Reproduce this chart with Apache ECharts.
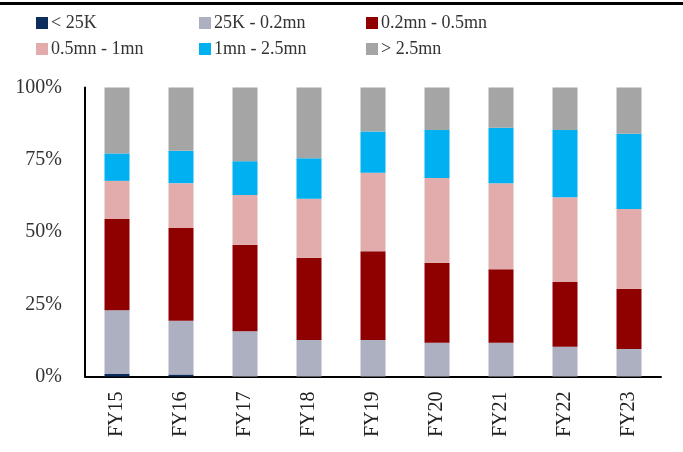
<!DOCTYPE html>
<html><head><meta charset="utf-8">
<script src="https://cdn.jsdelivr.net/npm/echarts@6/dist/echarts.min.js"></script>
<style>html,body{margin:0;padding:0;background:#fff}#c{width:683px;height:452px}</style>
</head><body><div id="c"></div>
<script>
const categories = ['FY15','FY16','FY17','FY18','FY19','FY20','FY21','FY22','FY23'];
const seriesNames = ['< 25K','25K - 0.2mn','0.2mn - 0.5mn','0.5mn - 1mn','1mn - 2.5mn','> 2.5mn'];
const under25K   = [1.0, 0.7, 0, 0, 0, 0, 0, 0, 0];
const k25to02mn  = [21.9, 18.6, 15.7, 12.6, 12.6, 11.7, 11.7, 10.3, 9.5];
const mn02to05   = [31.6, 32.1, 29.9, 28.5, 30.7, 27.7, 25.4, 22.4, 20.9];
const mn05to1    = [13.2, 15.5, 17.2, 20.4, 27.2, 29.3, 29.8, 29.3, 27.6];
const mn1to25    = [9.5, 11.2, 11.7, 14.0, 14.3, 16.6, 19.2, 23.3, 26.0];
const over25mn   = [22.8, 21.9, 25.5, 24.5, 15.2, 14.7, 13.9, 14.7, 16.0];
const yTicks = [0, 25, 50, 75, 100];

const colors = ['#0d2d5c', '#adb0c0', '#8f0000', '#e3acac', '#00b0f0', '#a5a5a5'];
const values = [under25K, k25to02mn, mn02to05, mn05to1, mn1to25, over25mn];
const font = '"Liberation Serif", "DejaVu Serif", serif';

const legendPos = [[36,14],[199,14],[366,14],[36,40],[199,40],[366,40]];
const legends = seriesNames.map((n, i) => ({
  data: [n], left: legendPos[i][0], top: legendPos[i][1], padding: 0,
  itemWidth: 12, itemHeight: 12, icon: 'rect', itemGap: 0,
  textStyle: { fontFamily: font, fontSize: 18, color: '#333', padding: [0,0,0,-2] }
}));

const chart = echarts.init(document.getElementById('c'), null, { renderer: 'canvas' });
chart.setOption({
  animation: false,
  color: colors,
  legend: legends,
  graphic: [{ type: 'rect', left: 0, top: 2, shape: { width: 683, height: 3 }, style: { fill: '#000' } }],
  grid: { left: 85, right: 22, top: 87.5, bottom: 75.5 },
  xAxis: {
    type: 'category', data: categories,
    axisLine: { lineStyle: { color: '#000', width: 2 } },
    axisTick: { show: false },
    axisLabel: { rotate: 90, margin: 15, fontFamily: font, fontSize: 20, color: '#222' }
  },
  yAxis: {
    type: 'value', min: yTicks[0], max: yTicks[yTicks.length - 1], interval: yTicks[1] - yTicks[0],
    axisLine: { show: true, lineStyle: { color: '#000', width: 2 } },
    axisTick: { show: false },
    splitLine: { show: false },
    axisLabel: { formatter: '{value}%', margin: 23, fontFamily: font, fontSize: 20, color: '#333' }
  },
  series: seriesNames.map((n, i) => ({
    name: n, type: 'bar', stack: 'total', data: values[i], barWidth: 25,
    itemStyle: { color: colors[i] }
  }))
});
</script></body></html>
